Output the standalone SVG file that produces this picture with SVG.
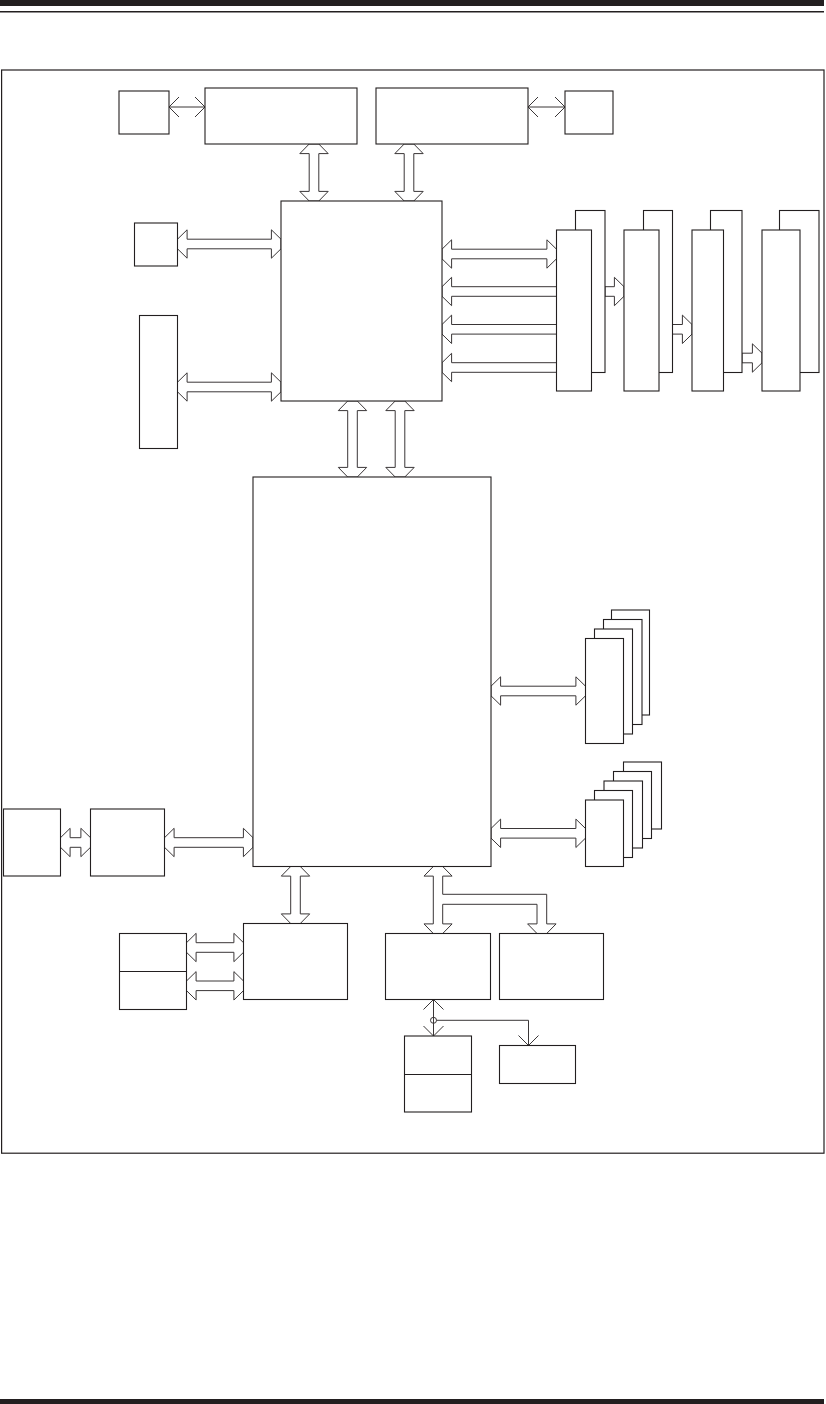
<svg xmlns="http://www.w3.org/2000/svg" width="826" height="1404" viewBox="0 0 826 1404">
<style>
.b{fill:#fff;stroke:#231f20;stroke-width:1.1}
.a{fill:#fff;stroke:#3a3637;stroke-width:1}
.t{fill:none;stroke:#3a3637;stroke-width:1}
.d{stroke:#231f20;stroke-width:1.1}
</style>
<rect width="826" height="1404" fill="#fff"/>
<g id="page">
<rect x="0" y="0" width="824" height="6" fill="#231f20"/>
<line x1="0" y1="11.8" x2="824" y2="11.8" stroke="#231f20" stroke-width="1.6"/>
<rect x="1.6" y="70" width="822.4" height="1083.2" fill="none" stroke="#231f20" stroke-width="1.2"/>
<rect x="0" y="1399" width="824" height="5" fill="#231f20"/>
</g>
<g id="connectors">
<polyline class="t" points="179,97 169,107 179,117"/><line class="t" x1="169" y1="107" x2="205" y2="107"/><polyline class="t" points="195,97 205,107 195,117"/>
<polyline class="t" points="538,97 528,107 538,117"/><line class="t" x1="528" y1="107" x2="565" y2="107"/><polyline class="t" points="555,97 565,107 555,117"/>
<polygon class="a" points="309.2,144 299.8,153.6 309.2,153.6 309.2,191.4 299.8,191.4 309.2,201 318.8,201 328.2,191.4 318.8,191.4 318.8,153.6 328.2,153.6 318.8,144"/>
<polygon class="a" points="404.2,144 394.8,153.6 404.2,153.6 404.2,191.4 394.8,191.4 404.2,201 413.8,201 423.2,191.4 413.8,191.4 413.8,153.6 423.2,153.6 413.8,144"/>
<polygon class="a" points="177.5,239.2 187.1,229.8 187.1,239.2 271.4,239.2 271.4,229.8 281,239.2 281,248.8 271.4,258.2 271.4,248.8 187.1,248.8 187.1,258.2 177.5,248.8"/>
<polygon class="a" points="177.5,382.2 187.1,372.8 187.1,382.2 271.4,382.2 271.4,372.8 281,382.2 281,391.8 271.4,401.2 271.4,391.8 187.1,391.8 187.1,401.2 177.5,391.8"/>
<polygon class="a" points="442,249.2 451.6,239.8 451.6,249.2 546.9,249.2 546.9,239.8 556.5,249.2 556.5,258.8 546.9,268.2 546.9,258.8 451.6,258.8 451.6,268.2 442,258.8"/>
<polygon class="a" points="442,286.7 451.6,277.3 451.6,286.7 556.5,286.7 556.5,296.3 451.6,296.3 451.6,305.7 442,296.3"/>
<polygon class="a" points="442,324.5 451.6,315.1 451.6,324.5 556.5,324.5 556.5,334.1 451.6,334.1 451.6,343.5 442,334.1"/>
<polygon class="a" points="442,362.7 451.6,353.3 451.6,362.7 556.5,362.7 556.5,372.3 451.6,372.3 451.6,381.7 442,372.3"/>
<polygon class="a" points="605,286.7 614.4,286.7 614.4,277.3 624,286.7 624,296.3 614.4,305.7 614.4,296.3 605,296.3"/>
<polygon class="a" points="672.5,324.5 682.4,324.5 682.4,315.1 692,324.5 692,334.1 682.4,343.5 682.4,334.1 672.5,334.1"/>
<polygon class="a" points="742,353.2 752.4,353.2 752.4,343.8 762,353.2 762,362.8 752.4,372.2 752.4,362.8 742,362.8"/>
<polygon class="a" points="347.7,401 338.3,410.6 347.7,410.6 347.7,467.4 338.3,467.4 347.7,477 357.3,477 366.7,467.4 357.3,467.4 357.3,410.6 366.7,410.6 357.3,401"/>
<polygon class="a" points="395.2,401 385.8,410.6 395.2,410.6 395.2,467.4 385.8,467.4 395.2,477 404.8,477 414.2,467.4 404.8,467.4 404.8,410.6 414.2,410.6 404.8,401"/>
<polygon class="a" points="491,686.2 500.6,676.8 500.6,686.2 575.9,686.2 575.9,676.8 585.5,686.2 585.5,695.8 575.9,705.2 575.9,695.8 500.6,695.8 500.6,705.2 491,695.8"/>
<polygon class="a" points="491,828.5 500.6,819.1 500.6,828.5 575.9,828.5 575.9,819.1 585.5,828.5 585.5,838.1 575.9,847.5 575.9,838.1 500.6,838.1 500.6,847.5 491,838.1"/>
<polygon class="a" points="60.5,837.7 70.1,828.3 70.1,837.7 80.9,837.7 80.9,828.3 90.5,837.7 90.5,847.3 80.9,856.7 80.9,847.3 70.1,847.3 70.1,856.7 60.5,847.3"/>
<polygon class="a" points="164.5,837.7 174.1,828.3 174.1,837.7 243.4,837.7 243.4,828.3 253,837.7 253,847.3 243.4,856.7 243.4,847.3 174.1,847.3 174.1,856.7 164.5,847.3"/>
<polygon class="a" points="290.7,866.5 281.3,876.1 290.7,876.1 290.7,913.9 281.3,913.9 290.7,923.5 300.3,923.5 309.7,913.9 300.3,913.9 300.3,876.1 309.7,876.1 300.3,866.5"/>
<polygon class="a" points="186.5,942.7 196.1,933.3 196.1,942.7 233.9,942.7 233.9,933.3 243.5,942.7 243.5,952.3 233.9,961.7 233.9,952.3 196.1,952.3 196.1,961.7 186.5,952.3"/>
<polygon class="a" points="186.5,981 196.1,971.6 196.1,981 233.9,981 233.9,971.6 243.5,981 243.5,990.6 233.9,1000 233.9,990.6 196.1,990.6 196.1,1000 186.5,990.6"/>
<polygon class="a" points="433.3,866.5 424,876.1 433.3,876.1 433.3,923.9 424,923.9 433.3,933.5 442.7,933.5 452.1,923.9 442.7,923.9 442.7,904.3 537,904.3 537,923.9 527.6,923.9 537,933.5 546.7,933.5 556.1,923.9 546.7,923.9 546.7,894.3 442.7,894.3 442.7,876.1 452.1,876.1 442.7,866.5"/>
<line class="t" x1="433.5" y1="999.5" x2="433.5" y2="1036"/>
<polyline class="t" points="423.5,1009.5 433.5,999.5 443.5,1009.5"/>
<polyline class="t" points="423.5,1026 433.5,1036 443.5,1026"/>
<circle class="t" cx="433.5" cy="1020.3" r="3"/>
<polyline class="t" points="436.5,1020.3 528.5,1020.3 528.5,1045.5"/>
<polyline class="t" points="518.5,1035.5 528.5,1045.5 538.5,1035.5"/>
</g>
<g id="node-tl"><rect class="b" x="119" y="91" width="50" height="43"/></g>
<g id="node-a"><rect class="b" x="205" y="88" width="152" height="56"/></g>
<g id="node-b"><rect class="b" x="376" y="88" width="152" height="56"/></g>
<g id="node-tr"><rect class="b" x="565" y="91" width="48" height="43"/></g>
<g id="node-mch"><rect class="b" x="281" y="201" width="161" height="200"/></g>
<g id="node-small"><rect class="b" x="134.5" y="223" width="43" height="43"/></g>
<g id="node-tall"><rect class="b" x="139.5" y="315.5" width="38" height="133"/></g>
<g id="node-dimm1"><rect class="b" x="575.5" y="210.5" width="29.5" height="162"/><rect class="b" x="556.5" y="230" width="35" height="161"/></g>
<g id="node-dimm2"><rect class="b" x="643.5" y="210.5" width="29" height="162"/><rect class="b" x="624" y="230" width="35" height="161"/></g>
<g id="node-dimm3"><rect class="b" x="710.5" y="210.5" width="31.5" height="162"/><rect class="b" x="692" y="230" width="31.5" height="161"/></g>
<g id="node-dimm4"><rect class="b" x="779.5" y="210.5" width="39.5" height="162"/><rect class="b" x="762" y="230" width="38" height="161"/></g>
<g id="node-ich"><rect class="b" x="253" y="477" width="238" height="389.5"/></g>
<g id="node-stack1">
<rect class="b" x="611.5" y="610" width="38" height="105"/>
<rect class="b" x="603.5" y="619.5" width="38.5" height="105"/>
<rect class="b" x="594.5" y="629" width="38" height="105"/>
<rect class="b" x="585.5" y="638.5" width="38" height="105"/>
</g>
<g id="node-stack2">
<rect class="b" x="623.5" y="762" width="38" height="67"/>
<rect class="b" x="613.5" y="771.5" width="38" height="67"/>
<rect class="b" x="604" y="781" width="38.5" height="67"/>
<rect class="b" x="594.5" y="790.5" width="38" height="67"/>
<rect class="b" x="585.5" y="800" width="38" height="66.5"/>
</g>
<g id="node-l1"><rect class="b" x="3.5" y="809" width="57" height="67"/></g>
<g id="node-l2"><rect class="b" x="90.5" y="809" width="74" height="67"/></g>
<g id="node-c"><rect class="b" x="243.5" y="923.5" width="104" height="76"/></g>
<g id="node-d"><rect class="b" x="119.5" y="933.5" width="67" height="76"/><line class="d" x1="119.5" y1="971.5" x2="186.5" y2="971.5"/></g>
<g id="node-e"><rect class="b" x="385.5" y="933.5" width="105" height="66"/></g>
<g id="node-f"><rect class="b" x="499.5" y="933.5" width="104" height="66"/></g>
<g id="node-g"><rect class="b" x="404.5" y="1036" width="67" height="76"/><line class="d" x1="404.5" y1="1074.5" x2="471.5" y2="1074.5"/></g>
<g id="node-h"><rect class="b" x="499.5" y="1045.5" width="76" height="38"/></g>
</svg>
